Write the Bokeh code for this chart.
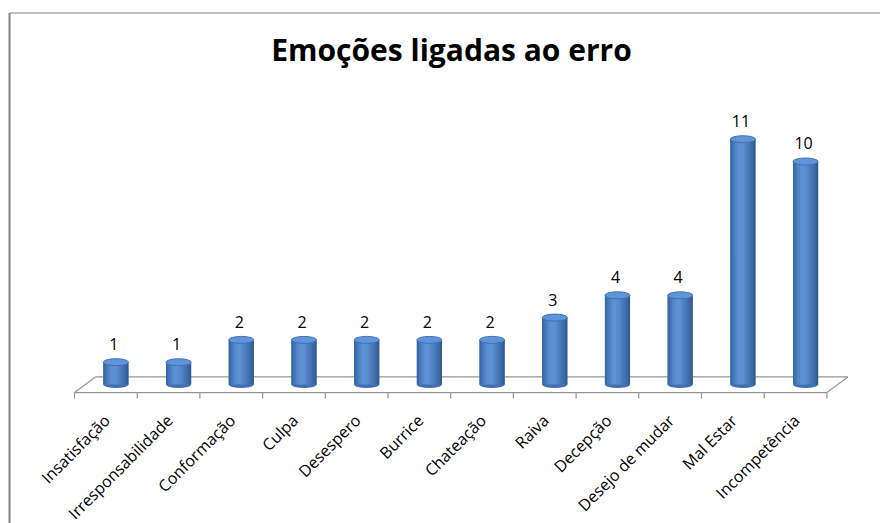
import math
from bokeh.plotting import figure
from bokeh.models import Range1d, Label, ColumnDataSource
from bokeh.core.properties import value
from bokeh.embed import file_html
from bokeh.resources import INLINE

# ---- data ----
categories = ["Insatisfação", "Irresponsabilidade", "Conformação", "Culpa",
              "Desespero", "Burrice", "Chateação", "Raiva", "Decepção",
              "Desejo de mudar", "Mal Estar", "Incompetência"]
counts = [1, 1, 2, 2, 2, 2, 2, 3, 4, 4, 11, 10]
title_text = "Emoções ligadas ao erro"

# ---- style / geometry ----
n = len(categories)
idx = list(range(n))
FRONT = -0.36      # front edge of the 3D floor (data y)
BACK = 0.34        # back edge of the 3D floor
DEPTH = 0.335      # horizontal shift of the back edge (categories)
BAR_OFF = 0.16     # bars sit in the middle of the floor depth
BAR_W = 0.40
TICK = 0.27
GRAY = "#959595"
FONT = "Open Sans"
X0, X1 = -1.6802, 12.3549
Y0, Y1 = -6.2332, 17.2197
BORDER_X = -1.5367
BORDER_Y = 16.659

p = figure(width=880, height=523,
           x_range=Range1d(X0, X1), y_range=Range1d(Y0, Y1),
           x_axis_location=None, y_axis_location=None,
           output_backend="svg", toolbar_location=None, min_border=0)
p.grid.visible = False
p.outline_line_color = None
p.background_fill_color = "white"
p.border_fill_color = "white"

# chart-area border (left and top visible)
p.line(x=[BORDER_X, BORDER_X], y=[Y0 - 1, BORDER_Y], line_color="#828282", line_width=2)
p.line(x=[BORDER_X, X1 + 1], y=[BORDER_Y, BORDER_Y], line_color="#828282", line_width=1.2)

# floor outline
x_left, x_right = -0.5, n - 0.5
p.multi_line(xs=[[x_left, x_right], [x_left + DEPTH, x_right + DEPTH],
                 [x_left, x_left + DEPTH], [x_right, x_right + DEPTH]],
             ys=[[FRONT, FRONT], [BACK, BACK], [FRONT, BACK], [FRONT, BACK]],
             line_color=GRAY, line_width=1.2)
bounds = [i - 0.5 for i in range(n + 1)]
p.segment(x0=bounds, y0=[FRONT] * len(bounds), x1=bounds,
          y1=[FRONT - TICK] * len(bounds), line_color=GRAY, line_width=1.2)

# cylinders
bar_x = [i + BAR_OFF for i in idx]
src = ColumnDataSource(dict(x=bar_x, top=counts, label=[str(c) for c in counts],
                            cat_x=idx, cat=categories,
                            front=[FRONT] * n, zero=[0] * n))

p.ellipse(x="x", y="zero", width=BAR_W, height=7, height_units="screen",
          fill_color="#4170b0", line_color=None, source=src)
p.vbar(x="x", width=BAR_W, top="top", bottom="zero",
       fill_color="#4a7bbd", line_color=None, source=src)
shades = ["#3a68a8", "#4677b9", "#5185c8", "#5a8fd2", "#5e93d5", "#5c90d2",
          "#5587ca", "#4d7dbf", "#4574b4", "#3d6aa7", "#335d97"]
ns = len(shades)
sw = BAR_W / ns
for k, col in enumerate(shades):
    p.vbar(x=[bx - BAR_W / 2 + (k + 0.5) * sw for bx in bar_x], width=sw * 1.05,
           top=counts, bottom=0, fill_color=col, line_color=None)
p.ellipse(x="x", y="top", width=BAR_W, height=7, height_units="screen",
          fill_color="#6094d8", line_color="#4272b3", line_width=1, source=src)

# value labels
p.text(x="x", y="top", text="label", x_offset=-2, y_offset=-18, text_align="center",
       text_baseline="middle", text_font=value(FONT), text_font_size="16px",
       text_color="#000000", source=src)

# category labels
p.text(x="cat_x", y="front", text="cat", angle=math.pi / 4, x_offset=1, y_offset=25,
       text_align="right", text_baseline="middle", text_font=value(FONT),
       text_font_size="16px", text_color="#000000", source=src)

# title
p.add_layout(Label(x=451, y=474, x_units="screen", y_units="screen",
                   text=title_text, text_align="center", text_baseline="middle",
                   text_font=FONT, text_font_style="bold", text_font_size="30px",
                   text_color="#000000"))

open("out.html", "w").write(file_html(p, INLINE))
